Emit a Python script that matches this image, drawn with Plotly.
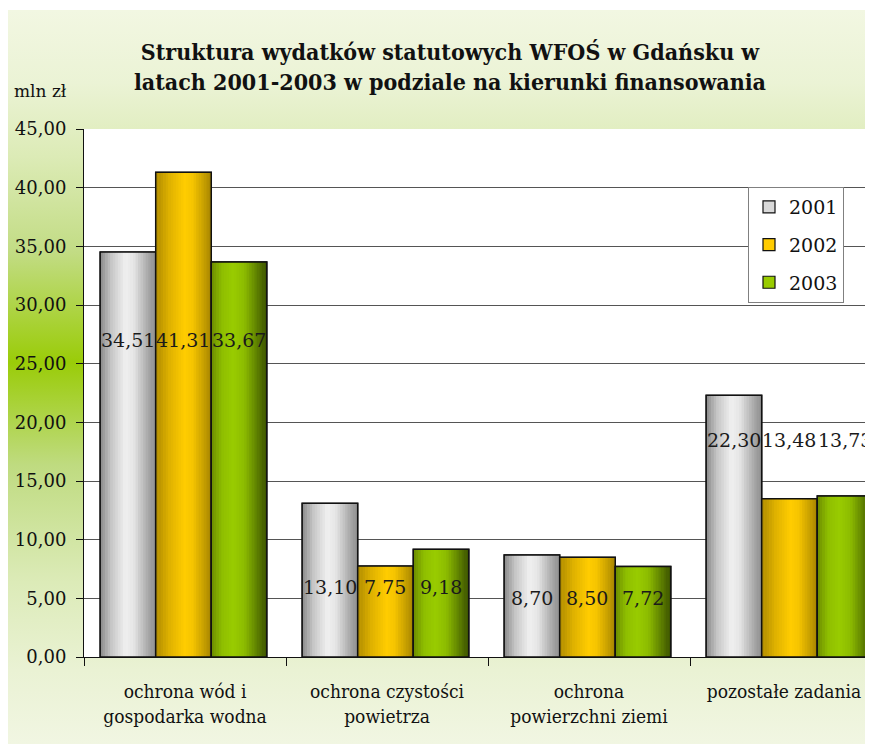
import base64
import plotly.graph_objects as go

# data
categories = ["ochrona wód i<br>gospodarka wodna", "ochrona czystości<br>powietrza",
              "ochrona<br>powierzchni ziemi", "pozostałe zadania *"]
years = ["2001", "2002", "2003"]
v2001 = [34.51, 13.10, 8.70, 22.30]
v2002 = [41.31, 7.75, 8.50, 13.48]
v2003 = [33.67, 9.18, 7.72, 13.73]
# height (mln zł) at which the value labels sit in each group
label_y = [27.0, 6.0, 5.0, 18.5]

# cylinder-like shading stops for each series (position across bar, colour)
shades = {
    "2001": [(0, "#8a8a8a"), (0.2, "#c6c6c6"), (0.45, "#f0f0f0"), (0.6, "#e6e6e6"), (0.85, "#ababab"), (1, "#8c8c8c")],
    "2002": [(0, "#b08c00"), (0.25, "#dfb200"), (0.52, "#ffcc00"), (0.66, "#f6c500"), (0.86, "#c8a000"), (1, "#a58300")],
    "2003": [(0, "#6c8c00"), (0.2, "#8fbf00"), (0.4, "#99cc00"), (0.6, "#8cbb00"), (0.85, "#587800"), (1, "#3a5000")],
}
mid_col = {"2001": "#d9d9d9", "2002": "#ffcc00", "2003": "#99cc00"}

series = [v2001, v2002, v2003]
offsets = [-0.42, -0.145, 0.13]
bw = 0.275
n_slices = 22


def hex_rgb(h):
    h = h.lstrip("#")
    return [int(h[i:i + 2], 16) for i in (0, 2, 4)]


def shade_at(stops, t):
    for (p0, c0), (p1, c1) in zip(stops[:-1], stops[1:]):
        if p0 <= t <= p1:
            f = (t - p0) / (p1 - p0)
            a, b = hex_rgb(c0), hex_rgb(c1)
            return "rgb(%d,%d,%d)" % tuple(round(a[k] + (b[k] - a[k]) * f) for k in range(3))
    return stops[-1][1]


fig = go.Figure()

for yr, vals, off in zip(years, series, offsets):
    # base bar, also used for the legend symbol
    fig.add_trace(go.Bar(x=categories, y=vals, offset=off, width=bw, name=yr,
                         legendgroup=yr, marker=dict(color=mid_col[yr], line=dict(color="#111", width=1.2)),
                         hoverinfo="skip"))
    # thin slices to fake the gradient fill
    for i in range(n_slices):
        t = (i + 0.5) / n_slices
        sw = bw / n_slices
        fig.add_trace(go.Bar(x=categories, y=vals, offset=off + i * sw,
                             width=sw * (1.0 if i == n_slices - 1 else 1.2),
                             marker=dict(color=shade_at(shades[yr], t), line=dict(width=0)),
                             showlegend=False, legendgroup=yr, hoverinfo="skip"))
    # outline on top
    fig.add_trace(go.Bar(x=categories, y=vals, offset=off, width=bw,
                         marker=dict(color="rgba(0,0,0,0)", line=dict(color="#111", width=1.5)),
                         showlegend=False, legendgroup=yr, name=yr))

# value labels
for vals, off in zip(series, offsets):
    for i, v in enumerate(vals):
        fig.add_annotation(x=i + off + bw / 2, y=label_y[i], xref="x", yref="y",
                           text=f"{v:.2f}".replace(".", ","), showarrow=False,
                           font=dict(family="DejaVu Serif", size=19, color="#1a1a1a"))

# background gradient (light - green - light)
svg = """<svg xmlns='http://www.w3.org/2000/svg' width='100' height='100' preserveAspectRatio='none'>
<defs><linearGradient id='g' x1='0' y1='0' x2='0' y2='1'>
<stop offset='0' stop-color='#f2f7e2'/><stop offset='0.1' stop-color='#ebf3d5'/>
<stop offset='0.2' stop-color='#dcebb6'/><stop offset='0.33' stop-color='#c2dc84'/>
<stop offset='0.48' stop-color='#9acc08'/><stop offset='0.62' stop-color='#bfdb80'/>
<stop offset='0.78' stop-color='#dcebb8'/><stop offset='0.9' stop-color='#eaf2d4'/>
<stop offset='1' stop-color='#f1f6e2'/></linearGradient></defs>
<rect width='100' height='100' fill='url(#g)'/></svg>"""
src = "data:image/svg+xml;base64," + base64.b64encode(svg.encode()).decode()

W, H = 857, 736
ml, mt, mb = 76, 121, 87
cat_px = 202  # pixels per category
pw = W - ml
ph = H - mt - mb
fig.add_layout_image(source=src, xref="paper", yref="paper",
                     x=-ml / pw, y=1 + (mt - 2) / ph,
                     sizex=W / pw, sizey=(H - 2) / ph,
                     sizing="stretch", xanchor="left", yanchor="top", layer="below")
# white plot area on top of the gradient
fig.add_shape(type="rect", xref="paper", yref="paper", x0=0, x1=1, y0=0, y1=1,
              fillcolor="white", line=dict(width=0), layer="below")

fig.add_annotation(text="mln zł", xref="paper", yref="paper", x=(4 - ml) / pw, y=1 + (mt - 83) / ph,
                   xanchor="left", yanchor="middle", showarrow=False,
                   font=dict(family="DejaVu Serif", size=17, color="#111"))

fig.update_layout(
    width=W, height=H,
    margin=dict(l=ml, r=0, t=mt, b=mb),
    paper_bgcolor="white", plot_bgcolor="rgba(0,0,0,0)",
    barmode="overlay", separators=", ",
    title=dict(text="<b>Struktura wydatków statutowych WFOŚ w Gdańsku w<br>latach 2001-2003 w podziale na kierunki finansowania</b>",
               x=442 / W, xanchor="center", y=1 - 52 / H, yanchor="middle",
               font=dict(family="DejaVu Serif Condensed", size=23, color="#111")),
    legend=dict(x=(740 - ml) / pw, y=(649 - 179) / ph, xanchor="left", yanchor="top",
                bgcolor="white", bordercolor="#808080", borderwidth=1, tracegroupgap=10,
                font=dict(family="DejaVu Serif", size=19, color="#111")),
    showlegend=True,
)

fig.update_yaxes(range=[0, 45], dtick=5, tickformat=".2f", showgrid=True, gridcolor="#555555", gridwidth=1,
                 showline=True, linecolor="#111", linewidth=1, ticks="outside", ticklen=7, tickcolor="#111",
                 tickfont=dict(family="DejaVu Serif", size=18, color="#111"), zeroline=False,
                 ticklabelstandoff=6, automargin=False)
fig.update_xaxes(range=[-0.5, -0.5 + pw / cat_px], tickson="boundaries", automargin=False,
                 showline=True, linecolor="#111", linewidth=1, ticks="outside", ticklen=8, tickcolor="#111",
                 tickfont=dict(family="DejaVu Serif Condensed", size=19, color="#111"), ticklabelstandoff=17)

fig.write_html("out.html")
